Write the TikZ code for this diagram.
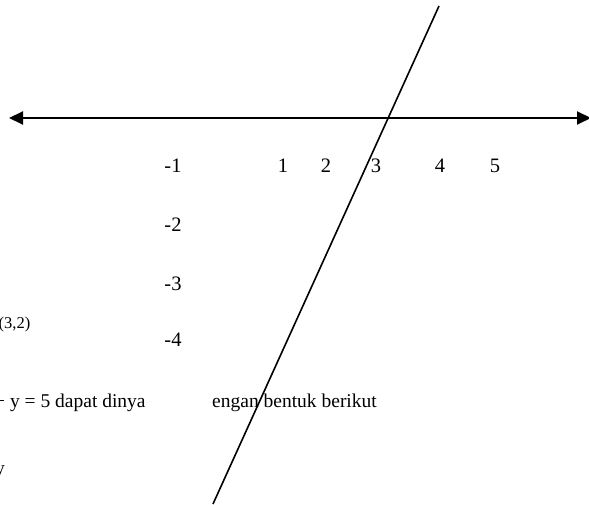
\documentclass[tikz,border=0pt]{standalone}
\usepackage{fontspec}
\setmainfont{Liberation Serif}
\usetikzlibrary{arrows.meta}
\begin{document}
\begin{tikzpicture}[x=1pt,y=-1pt,
  lbl/.style={inner sep=0pt,anchor=base,font=\fontsize{20.5}{24}\selectfont},
  txt/.style={inner sep=0pt,anchor=base west,font=\fontsize{19.5}{23}\selectfont},
  small/.style={inner sep=0pt,anchor=base west,font=\fontsize{16.5}{20}\selectfont},
  axis/.style={line width=2pt,{Triangle[length=14pt,width=13pt]}-{Triangle[length=14pt,width=13pt]}},
  graph/.style={line width=1.6pt}]
\useasboundingbox (0,0) rectangle (589,505);
\fill[white] (0,0) rectangle (589,505);
% axis
\coordinate (axL) at (9,118);
\coordinate (axR) at (591,118);
\draw[axis] (axL) -- (axR);
% slanted line
\coordinate (gTop) at (439,6);
\coordinate (gBot) at (213,504);
\draw[graph] (gTop) -- (gBot);
% x labels
\node[lbl] (xm1) at (173,173) {-1};
\node[lbl] (x1) at (283,173) {1};
\node[lbl] (x2) at (326,173) {2};
\node[lbl] (x3) at (376,173) {3};
\node[lbl] (x4) at (440,173) {4};
\node[lbl] (x5) at (495,173) {5};
% y labels
\node[lbl] (ym2) at (173,232) {-2};
\node[lbl] (ym3) at (173,290) {-3};
\node[lbl] (ym4) at (173,346) {-4};
% texts
\node[small] (pt) at (-1.5,328) {(3,2)};
\node[txt] (t1) at (-6,407) {+ y = 5 dapat dinya};
\node[txt] (t2) at (212,407) {engan bentuk berikut};
\node[txt] (t3) at (-5,474) {y};
\end{tikzpicture}
\end{document}
